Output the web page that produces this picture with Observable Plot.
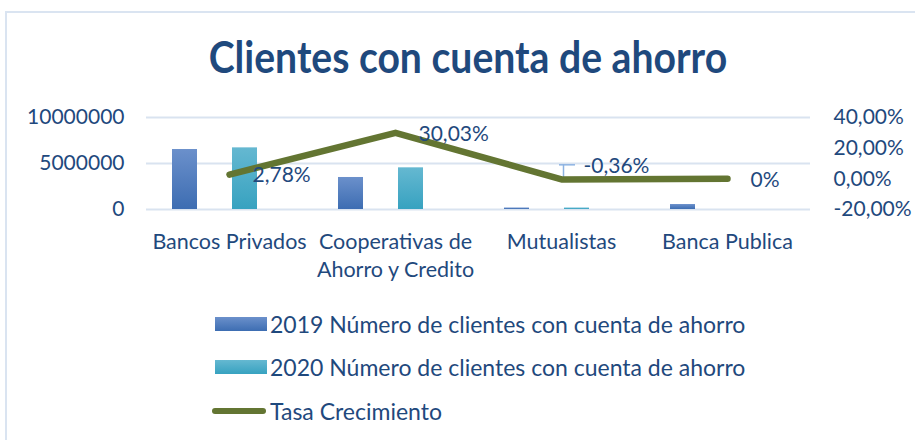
<!DOCTYPE html>
<html>
<head>
<meta charset="utf-8">
<script src="https://cdn.jsdelivr.net/npm/d3@7"></script>
<script src="https://cdn.jsdelivr.net/npm/@observablehq/plot@0.6"></script>
<style>
  html, body { margin: 0; padding: 0; background: #fff; width: 915px; height: 440px; overflow: hidden; }
  body { font-family: Lato, "Open Sans", sans-serif; color: #1f497d; position: relative; }
  #frame { position: absolute; left: 5px; top: 11px; width: 1200px; height: 1000px; border: 2px solid #dae4f1; box-sizing: border-box; }
  #title { position: absolute; left: 10px; top: 32px; width: 915px; text-align: center; font-size: 43px; font-weight: bold; color: #1f497d; line-height: 50px; }
  #title span { display: inline-block; transform: scaleX(0.91); transform-origin: center; }
  .layer { position: absolute; left: 0; top: 90px; }
  .legend-row { position: absolute; left: 212px; height: 24px; display: flex; align-items: center; font-size: 23px; color: #1f497d; }
  .sw { width: 52px; height: 14px; margin-left: 3px; margin-right: 3px; }
  .swline { width: 54px; height: 6px; border-radius: 3px; background: #637532; margin-right: 4px; }
</style>
</head>
<body>
<div id="frame"></div>
<div id="title"><span>Clientes con cuenta de ahorro</span></div>
<div id="bars" class="layer"></div>
<div id="lines" class="layer"></div>
<div id="legend"></div>
<script>
// ---- data ----
const categories = ["Bancos Privados", "Cooperativas de Ahorro y Credito", "Mutualistas", "Banca Publica"];
const categoryLabels = ["Bancos Privados", "Cooperativas de\nAhorro y Credito", "Mutualistas", "Banca Publica"];
const clientes2019 = [6520000, 3480000, 160000, 540000];
const clientes2020 = [6700000, 4530000, 159000, 0];
const tasaCrecimiento = [0.0278, 0.3003, -0.0036, 0];
const leftTicks = [0, 5000000, 10000000];
const rightTicks = [-0.2, 0, 0.2, 0.4];
const seriesNames = ["2019 Número de clientes con cuenta de ahorro", "2020 Número de clientes con cuenta de ahorro", "Tasa Crecimiento"];

// ---- layout ----
const W = 915, H = 200;
const M = {top: 27, bottom: 81, left: 146, right: 105};
const textColor = "#1f497d";
const gridColor = "#d9e3f0";
const lineColor = "#637532";

const rows19 = categories.map((c, i) => ({cat: c, serie: "2019", value: clientes2019[i]}));
const rows20 = categories.map((c, i) => ({cat: c, serie: "2020", value: clientes2020[i]}));
const rowsT = categories.map((c, i) => ({cat: c, tasa: tasaCrecimiento[i]}));
const labelOf = Object.fromEntries(categories.map((c, i) => [c, categoryLabels[i]]));

const pctFmt = d => (d * 100).toFixed(2).replace(".", ",") + "%";
const labelFmt = d => d === 0 ? "0%" : pctFmt(d);

const bars = Plot.plot({
  width: W, height: H,
  marginTop: M.top, marginBottom: M.bottom, marginLeft: M.left, marginRight: M.right,
  style: {fontFamily: "Lato, sans-serif", color: textColor, background: "transparent", overflow: "visible"},
  fx: {domain: categories, padding: 0, label: null},
  x: {domain: ["2019", "g1", "2020", "g2"], paddingInner: 0.18, paddingOuter: 0.8, axis: null},
  y: {domain: [0, 10000000]},
  marks: [
    Plot.gridY(leftTicks, {stroke: gridColor, strokeOpacity: 1, strokeWidth: 2}),
    Plot.barY(rows19, {fx: "cat", x: "serie", y: "value", fill: "url(#g2019)"}),
    Plot.barY(rows20, {fx: "cat", x: "serie", y: "value", fill: "url(#g2020)"}),
    Plot.axisY(leftTicks, {tickSize: 0, tickPadding: 22, fontSize: 21, tickFormat: d => String(d), label: null}),
    Plot.axisFx({anchor: "bottom", tickSize: 0, tickPadding: 20, fontSize: 21.5, lineHeight: 1.3, tickFormat: d => labelOf[d], label: null})
  ]
});
const defs = d3.select(bars).insert("defs", ":first-child");
function grad(id, top, bottom) {
  const g = defs.append("linearGradient").attr("id", id).attr("x1", 0).attr("y1", 0).attr("x2", 0).attr("y2", 1);
  g.append("stop").attr("offset", "0%").attr("stop-color", top);
  g.append("stop").attr("offset", "100%").attr("stop-color", bottom);
}
grad("g2019", "#6b90cb", "#3d6db2");
grad("g2020", "#65b8d1", "#37a2c0");
document.getElementById("bars").appendChild(bars);

const lines = Plot.plot({
  width: W, height: H,
  marginTop: M.top, marginBottom: M.bottom, marginLeft: M.left, marginRight: M.right,
  style: {fontFamily: "Lato, sans-serif", color: textColor, background: "transparent", overflow: "visible"},
  x: {type: "point", domain: categories, padding: 0.5, axis: null},
  y: {domain: [-0.2, 0.4]},
  marks: [
    Plot.axisY(rightTicks, {anchor: "right", tickSize: 0, tickPadding: 23, fontSize: 21, tickFormat: pctFmt, label: null}),
    Plot.ruleX(rowsT.filter(d => d.cat === "Mutualistas"), {x: "cat", y1: "tasa", y2: d => d.tasa + 0.095, dx: 2, stroke: "#8db3e2", strokeWidth: 1.5}),
    Plot.ruleY(rowsT.filter(d => d.cat === "Mutualistas"), {x1: "cat", x2: "cat", y: d => d.tasa + 0.095, insetLeft: -2, insetRight: -14, stroke: "#8db3e2", strokeWidth: 1.5}),
    Plot.line(rowsT, {x: "cat", y: "tasa", stroke: lineColor, strokeWidth: 6.5, strokeLinecap: "round", strokeLinejoin: "round"}),
    Plot.text(rowsT.filter(d => d.cat !== "Mutualistas"), {x: "cat", y: "tasa", text: d => labelFmt(d.tasa), textAnchor: "start", dx: 23, dy: 1, fontSize: 21, fill: textColor}),
    Plot.text(rowsT.filter(d => d.cat === "Mutualistas"), {x: "cat", y: "tasa", text: d => labelFmt(d.tasa), textAnchor: "start", dx: 22, dy: -13, fontSize: 21, fill: textColor})
  ]
});
document.getElementById("lines").appendChild(lines);

// ---- legend ----
const legend = document.getElementById("legend");
const legendTops = [312, 355, 399];
seriesNames.forEach((name, i) => {
  const row = document.createElement("div");
  row.className = "legend-row";
  row.style.top = legendTops[i] + "px";
  const sw = document.createElement("div");
  if (i === 2) {
    sw.className = "swline";
  } else {
    sw.className = "sw";
    sw.style.background = i === 0 ? "linear-gradient(#6b90cb, #3d6db2)" : "linear-gradient(#65b8d1, #37a2c0)";
  }
  const t = document.createElement("span");
  t.textContent = name;
  row.appendChild(sw);
  row.appendChild(t);
  legend.appendChild(row);
});
</script>
</body>
</html>
